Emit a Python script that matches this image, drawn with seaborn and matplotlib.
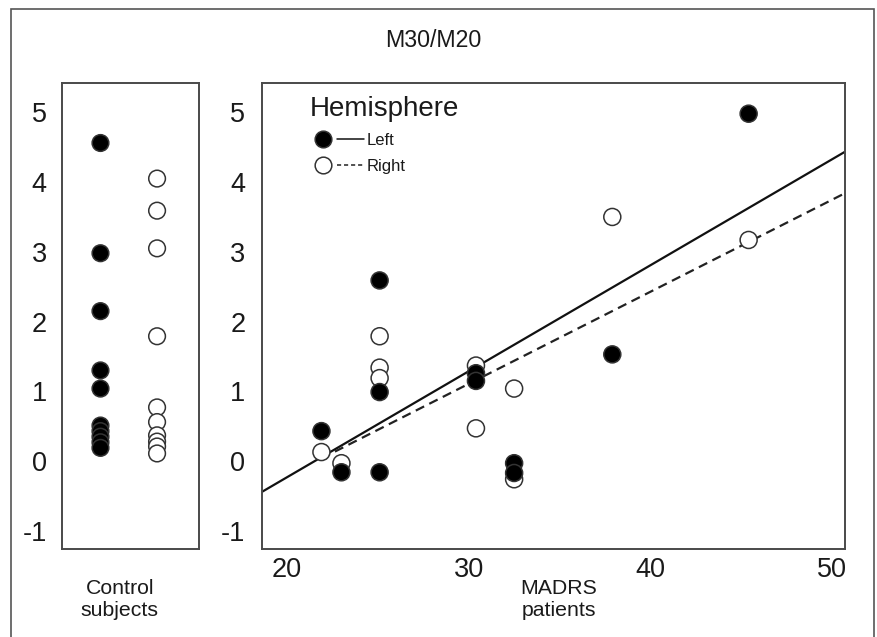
import numpy as np
import pandas as pd
import matplotlib
matplotlib.use("Agg")
import matplotlib.pyplot as plt
from matplotlib.lines import Line2D
from matplotlib.legend_handler import HandlerTuple
from matplotlib.patches import Rectangle
import seaborn as sns

# Control subjects, M30/M20 ratio per hemisphere
control_left = [4.56, 2.98, 2.15, 1.30, 1.04, 0.51, 0.43, 0.35, 0.27, 0.19]
control_right = [4.05, 3.59, 3.05, 1.79, 0.77, 0.56, 0.37, 0.28, 0.21, 0.11]

# MADRS patients: score and ratio per hemisphere
madrs = [21.9, 23.0, 25.1, 25.1, 25.1, 30.4, 30.4, 32.5, 32.5, 37.9, 45.4]
patient_left = [0.43, -0.16, 2.59, 0.99, -0.16, 1.26, 1.15, -0.03, -0.17, 1.53, 4.98]
patient_right = [0.13, -0.03, 1.79, 1.34, 1.19, 1.37, 0.47, 1.04, -0.26, 3.50, 3.17]

# regression lines
fit_intercept = {"Left": -3.272, "Right": -2.852}
fit_slope = {"Left": 0.152, "Right": 0.132}
fit_start = {"Left": 18.6, "Right": 21.9}
fit_end = 50.7

y_ticks = [-1, 0, 1, 2, 3, 4, 5]
x_ticks = [20, 30, 40, 50]

sns.set_style("white")
plt.rcParams["font.family"] = ["Liberation Sans", "DejaVu Sans"]
plt.rcParams["axes.unicode_minus"] = False

controls = pd.DataFrame({
    "hemisphere": ["Left"] * len(control_left) + ["Right"] * len(control_right),
    "ratio": control_left + control_right,
})
patients = pd.DataFrame({
    "hemisphere": ["Right"] * len(madrs) + ["Left"] * len(madrs),
    "madrs": madrs + madrs,
    "ratio": patient_right + patient_left,
})

palette = {"Left": "black", "Right": "white"}
edge = "#333333"
text_col = "#1a1a1a"
ylim = (-1.26, 5.42)

fig = plt.figure(figsize=(8.78, 6.37), dpi=100)
ax_c = fig.add_axes([0.0706, 0.1381, 0.156, 0.7316])
ax_p = fig.add_axes([0.2984, 0.1381, 0.664, 0.7316])

# control subjects panel
sns.stripplot(data=controls, x="hemisphere", y="ratio", hue="hemisphere",
              order=["Left", "Right"], palette=palette, jitter=False,
              size=12, linewidth=1.1, edgecolor=edge, legend=False, ax=ax_c)
ax_c.set_xlim(-0.68, 1.74)
ax_c.set_xticks([])
ax_c.set_ylim(*ylim)
ax_c.set_yticks(y_ticks)
ax_c.set_ylabel("")
ax_c.set_xlabel("Control\nsubjects", fontsize=15.3, color=text_col)
ax_c.xaxis.set_label_coords(0.423, -0.064)
ax_c.tick_params(axis="y", length=0, pad=11, labelsize=19.5, labelcolor=text_col)

# patients panel
for hemi in ["Left", "Right"]:
    xs = np.array([fit_start[hemi], fit_end])
    ys = fit_intercept[hemi] + fit_slope[hemi] * xs
    if hemi == "Left":
        ax_p.plot(xs, ys, color="#111111", lw=1.6, solid_capstyle="butt")
    else:
        ax_p.plot(xs, ys, color="#222222", lw=1.6, linestyle=(0, (4.2, 2.6)))

sns.scatterplot(data=patients, x="madrs", y="ratio", hue="hemisphere",
                palette=palette, s=150, linewidth=1.1, edgecolor=edge,
                legend=False, ax=ax_p, zorder=3)
ax_p.set_xlim(18.63, 50.7)
ax_p.set_ylim(*ylim)
ax_p.set_xticks(x_ticks)
ax_p.set_yticks(y_ticks)
ax_p.set_ylabel("")
ax_p.set_xlabel("MADRS\npatients", fontsize=15.3, color=text_col)
ax_p.xaxis.set_label_coords(0.509, -0.064)
ax_p.tick_params(axis="y", length=0, pad=12, labelsize=19.5, labelcolor=text_col)
ax_p.tick_params(axis="x", length=0, pad=6, labelsize=19.5, labelcolor=text_col)

for ax in (ax_c, ax_p):
    for sp in ax.spines.values():
        sp.set_visible(True)
        sp.set_color("#4a4a4a")
        sp.set_linewidth(1.4)

# legend: marker followed by line sample
h_left = (Line2D([], [], marker="o", ls="none", ms=12, mfc="black", mec=edge, mew=1.1),
          Line2D([], [], color="#111111", lw=1.1))
h_right = (Line2D([], [], marker="o", ls="none", ms=12, mfc="white", mec=edge, mew=1.1),
           Line2D([], [], color="#222222", lw=1.1, linestyle=(0, (2.7, 1.9))))
leg = ax_p.legend([h_left, h_right], ["Left", "Right"],
                  handler_map={tuple: HandlerTuple(ndivide=None, pad=0)},
                  title="Hemisphere", title_fontsize=20, fontsize=12,
                  loc="upper left", bbox_to_anchor=(0.0815, 0.9716),
                  frameon=False, borderpad=0, borderaxespad=0,
                  handlelength=3.24, handletextpad=0.2, labelspacing=0.64,
                  alignment="left", labelcolor=text_col)
leg.get_title().set_color(text_col)

fig.text(0.493, 0.936, "M30/M20", ha="center", va="center", fontsize=16.7,
         color=text_col)

# outer frame of the figure panel
fig.patches.append(Rectangle((11 / 878, -0.05), (874 - 11) / 878, 1.05 - 9 / 637,
                             transform=fig.transFigure, fill=False,
                             edgecolor="#555555", linewidth=1.2))

fig.savefig("out.png", dpi=100)
